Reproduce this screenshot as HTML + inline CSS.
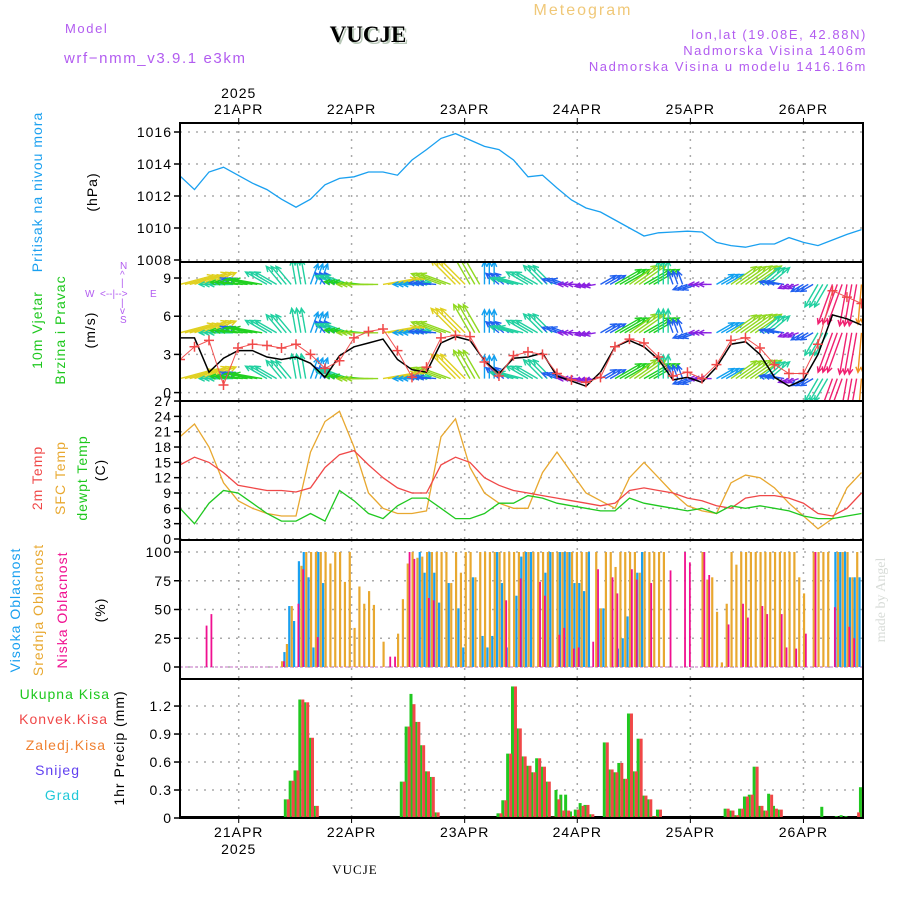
<!DOCTYPE html>
<html><head><meta charset="utf-8"><style>
html,body{margin:0;padding:0;background:#fff;}
svg{display:block;font-family:"Liberation Sans",sans-serif;}
.t{font-size:14px;letter-spacing:1px;fill:#000;}
.pu{fill:#b25cf0;font-size:13px;letter-spacing:1.6px;}
</style></head><body>
<svg id="chart" width="900" height="900" viewBox="0 0 900 900" xmlns="http://www.w3.org/2000/svg">
<defs>
<clipPath id="c1"><rect x="180" y="123" width="683" height="139"/></clipPath>
<clipPath id="c2"><rect x="180" y="262" width="683" height="139"/></clipPath>
<clipPath id="c3"><rect x="180" y="401" width="683" height="139"/></clipPath>
<clipPath id="c4"><rect x="180" y="540" width="683" height="139"/></clipPath>
<clipPath id="c5"><rect x="180" y="679" width="683" height="139"/></clipPath>
</defs>
<text x="65" y="33" class="pu" font-size="14">Model</text>
<text x="64" y="63" class="pu" style="font-size:15px">wrf−nmm_v3.9.1 e3km</text>
<text x="370" y="44" text-anchor="middle" font-family="Liberation Serif,serif" font-weight="bold" font-size="23" fill="#b8c8b8">VUCJE</text>
<text x="368" y="42" text-anchor="middle" font-family="Liberation Serif,serif" font-weight="bold" font-size="23" fill="#000">VUCJE</text>
<text x="583" y="15" text-anchor="middle" fill="#f0c878" font-size="16" letter-spacing="2">Meteogram</text>
<text x="867" y="39" text-anchor="end" class="pu">lon,lat (19.08E, 42.88N)</text>
<text x="867" y="55" text-anchor="end" class="pu">Nadmorska Visina 1406m</text>
<text x="867" y="71" text-anchor="end" class="pu">Nadmorska Visina u modelu 1416.16m</text>

<text transform="translate(42,192) rotate(-90)" text-anchor="middle" class="t" style="fill:#1aa0f0">Pritisak na nivou mora</text>
<text transform="translate(97,192) rotate(-90)" text-anchor="middle" class="t">(hPa)</text>
<text transform="translate(42,330) rotate(-90)" text-anchor="middle" class="t" style="fill:#1ec81e">10m Vjetar</text>
<text transform="translate(65,330) rotate(-90)" text-anchor="middle" class="t" style="fill:#1ec81e">Brzina i Pravac</text>
<text transform="translate(95,330) rotate(-90)" text-anchor="middle" class="t">(m/s)</text>
<g fill="#b25cf0" font-size="10">
<text x="120" y="269">N</text><text x="120" y="278">^</text><text x="121" y="286">|</text>
<text x="85" y="297">W</text><text x="100" y="297">&lt;--|--&gt;</text><text x="150" y="297">E</text>
<text x="121" y="306">|</text><text x="120" y="314">v</text><text x="120" y="323">S</text>
</g>
<text transform="translate(42,478) rotate(-90)" text-anchor="middle" class="t" style="fill:#f04848">2m Temp</text>
<text transform="translate(65,478) rotate(-90)" text-anchor="middle" class="t" style="fill:#e8a830">SFC Temp</text>
<text transform="translate(87,478) rotate(-90)" text-anchor="middle" class="t" style="fill:#1ec81e">dewpt Temp</text>
<text transform="translate(105,470) rotate(-90)" text-anchor="middle" class="t">(C)</text>
<text transform="translate(20,610) rotate(-90)" text-anchor="middle" class="t" style="fill:#1aa0f0">Visoka Oblacnost</text>
<text transform="translate(43,610) rotate(-90)" text-anchor="middle" class="t" style="fill:#e8a830">Srednja Oblacnost</text>
<text transform="translate(67,610) rotate(-90)" text-anchor="middle" class="t" style="fill:#f01090">Niska Oblacnost</text>
<text transform="translate(105,610) rotate(-90)" text-anchor="middle" class="t">(%)</text>
<text x="110" y="699" text-anchor="end" class="t" style="fill:#1ec81e">Ukupna Kisa</text>
<text x="108" y="724" text-anchor="end" class="t" style="fill:#f04848">Konvek.Kisa</text>
<text x="106" y="750" text-anchor="end" class="t" style="fill:#f08030">Zaledj.Kisa</text>
<text x="80" y="775" text-anchor="end" class="t" style="fill:#6040f0">Snijeg</text>
<text x="80" y="800" text-anchor="end" class="t" style="fill:#20c8d8">Grad</text>
<text transform="translate(124,748) rotate(-90)" text-anchor="middle" class="t">1hr Precip (mm)</text>
<text transform="translate(885,600) rotate(-90)" text-anchor="middle" font-family="Liberation Serif,serif" font-size="14" fill="#d8dcd8">made by Angel</text>
<text x="355" y="874" text-anchor="middle" font-family="Liberation Serif,serif" font-size="13" letter-spacing="1">VUCJE</text>
<g id="plot"></g>
</svg>
<script>
const hours3 = [0,3,6,9,12,15,18,21,24,27,30,33,36,39,42,45,48,51,54,57,60,63,66,69,72,75,78,81,84,87,90,93,96,99,102,105,108,111,114,117,120,123,126,129,132,135,138,141];
const pressure = [1013.25,1012.4,1013.5,1013.8,1013.3,1012.8,1012.4,1011.8,1011.3,1011.8,1012.7,1013.1,1013.2,1013.5,1013.5,1013.3,1014.25,1014.9,1015.6,1015.9,1015.5,1015.1,1014.9,1014.25,1013.2,1013.3,1012.5,1011.75,1011.25,1011,1010.5,1010,1009.5,1009.7,1009.75,1009.8,1009.75,1009.1,1008.9,1008.8,1009,1009,1009.4,1009.1,1008.9,1009.25,1009.6,1009.9];
const windSpeed = [4.3,4.3,1.6,2.7,3.3,3.3,2.8,2.6,2.8,2.3,1.2,2.9,3.6,3.9,4.2,2.6,1.8,1.6,3.9,4.4,4.1,2.5,1.5,2.7,2.8,3.1,1.3,0.9,0.5,1.6,3.6,4.1,3.6,2.6,1.0,1.2,0.8,2.0,3.8,4.0,3.0,1.2,0.5,1.0,3.0,6.1,5.8,5.3];
const windGust = [2.6,3.6,4.1,0.6,3.5,3.8,3.7,3.5,3.8,3.0,1.9,2.5,4.3,4.8,5.0,3.3,1.2,2.0,4.3,4.5,4.4,2.4,1.3,2.9,3.2,3.0,1.5,1.0,0.8,1.2,3.6,4.2,3.9,2.8,1.3,1.6,1.1,2.2,4.1,4.3,3.5,2.2,1.5,1.5,3.8,8.0,7.5,7.0];
const windHeading = [15,20,20,180,175,170,150,130,100,70,130,160,175,180,10,5,180,175,160,135,120,90,140,165,150,135,160,180,190,30,30,35,30,90,110,200,180,30,35,35,40,170,200,210,240,250,260,265];
const temp2m = [14.5,16,15,13,10.5,10,9.5,9.5,9.2,10,14,16.5,17.3,14.5,12,10,9,9,14.5,16,15,12,10.5,9.5,9,8.5,8,7.5,7,6.5,7,9.5,10,9.5,9,8,7.5,6.5,6,8,8.5,8.5,8,7,5,4.5,6,9];
const tempSfc = [20,22.5,18,11,7.5,6,5,4.5,4.5,17,23,25,18,9,6,5,5,5.5,20,23.5,14,9,7,6,6,13,17,13,9,7.5,6,12,15,12,9,6.5,5.5,5,11,12.5,12,10,7,4.5,2,4,10,13];
const dewpoint = [6,3,7,9.5,9,7,5,3.5,3.5,5,3.5,9.5,7.5,5,4,6.5,8,8,6,4,4,5,7,7,8.5,8,7,6.5,6,5.5,5.5,8,7,6.5,6,5.5,6,5,6.5,6,6.5,6,5.5,4.5,4,4,4.5,5];
const cloudHigh = [0,0,0,0,0,0,0,0,0,0, 0,0,0,0,0,0,0,0,0,0, 0,0,13,53,40,92,100,78,17,100, 73,0,0,0,0,0,0,0,0,0, 0,0,0,0,0,0,0,0,0,0, 100,82,100,82,56,0,73,0,51,17, 0,78,0,27,17,27,100,73,17,0, 62,96,100,100,0,0,82,100,0,100, 100,100,73,73,66,100,0,51,51,0, 0,16,25,44,0,82,100,0,0,0, 0,0,0,0,0,0,0,0,0,0, 0,0,0,0,0,0,0,0,0,0, 0,0,0,0,0,0,0,0,0,0, 0,0,0,0,0,0,100,100,100,78, 78,78];
const cloudMid = [0,0,0,0,0,0,0,0,0,0, 0,0,0,0,0,0,0,0,0,0, 0,5,20,53,0,88,100,100,100,100, 100,90,100,100,74,100,34,70,55,66, 54,0,22,0,0,29,59,90,100,95, 96,100,100,100,100,100,73,100,82,100, 100,78,100,100,100,100,100,100,100,100, 100,100,100,100,100,100,100,100,100,100, 100,100,100,100,100,0,100,51,100,100, 87,100,100,100,100,82,100,100,100,100, 100,0,0,0,0,0,0,0,100,76, 78,48,4,55,100,89,100,100,100,100, 100,100,100,100,100,100,100,100,78,64, 0,100,100,100,100,0,100,100,100,78, 100,0];
const cloudLow = [0,0,0,0,0,36,46,0,0,0, 0,0,0,0,0,0,0,0,0,0, 0,5,0,0,55,85,0,0,26,0, 0,0,0,0,0,0,0,0,0,0, 0,0,0,9,9,0,0,100,94,0, 0,60,58,0,0,0,0,0,0,0, 0,0,0,0,0,0,0,58,0,0, 77,0,0,0,74,62,0,0,28,34, 0,16,17,0,0,22,85,0,0,78, 64,0,0,85,76,0,0,73,0,0, 0,84,0,0,100,91,0,0,100,80, 0,0,0,37,0,0,55,43,0,0, 53,46,0,0,46,17,0,16,0,29, 0,100,0,0,0,52,0,0,35,25, 0,0];
const precipTotal = [0,0,0,0,0,0,0,0,0,0, 0,0,0,0,0,0,0,0,0,0, 0,0,0.2,0.4,0.51,1.27,1.24,0.86,0.13,0, 0,0,0,0,0,0,0,0,0,0, 0,0,0,0,0,0.01,0.39,0.98,1.33,1.03, 0.78,0.5,0.44,0.06,0,0,0,0,0,0, 0,0,0,0,0,0.01,0.05,0.19,0.69,1.41, 0.96,0.66,0.56,0.49,0.64,0.55,0.39,0.015,0.3,0.25, 0.25,0.07,0.09,0.16,0.14,0.04,0,0,0.81,0.52, 0.49,0.59,0.42,1.12,0.5,0.85,0.24,0.2,0.02,0.09, 0.01,0,0,0.01,0.01,0,0,0,0,0, 0,0,0,0.1,0.08,0.03,0.1,0.23,0.25,0.55, 0.13,0.08,0.26,0.13,0.09,0,0,0,0,0, 0,0,0,0.12,0,0,0.02,0.03,0.02,0, 0,0.33];
const precipConv = [0,0,0,0,0,0,0,0,0,0, 0,0,0,0,0,0,0,0,0,0, 0,0,0.2,0.4,0.51,1.27,1.24,0.86,0.13,0, 0,0,0,0,0,0,0,0,0,0, 0,0,0,0,0,0.01,0.39,0.98,1.22,1.03, 0.78,0.5,0.44,0.06,0,0,0,0,0,0, 0,0,0,0,0,0.01,0.05,0.19,0.69,1.41, 0.96,0.66,0.56,0.49,0.64,0.55,0.39,0.015,0.2,0.08, 0.08,0.02,0.09,0.13,0.14,0.04,0,0,0.81,0.52, 0.49,0.59,0.42,1.12,0.5,0.85,0.24,0.2,0.02,0.09, 0.01,0,0,0.01,0.01,0,0,0,0,0, 0,0,0,0.1,0.08,0.03,0.1,0.23,0.25,0.55, 0.13,0.08,0.25,0.1,0.09,0,0,0,0,0, 0,0,0,0,0,0,0,0,0,0.01, 0.06,0.33];
const dayTickHours = [12.15,35.5,58.9,82.2,105.6,129.0];
const dayLabels = ['21APR','22APR','23APR','24APR','25APR','26APR'];
const pressureTicks = [1008,1010,1012,1014,1016];
const windTicks = [0,3,6,9];
const tempTicks = [0,3,6,9,12,15,18,21,24,27];
const cloudTicks = [0,25,50,75,100];
const precipTicks = [0,0.3,0.6,0.9,1.2];
const windRows = [1.1,4.7,8.5];

const X0=180, X1=863;
const xS = h => X0 + h*4.833;
const yP = v => 132 + (1016-v)*16;
const yW = v => 392.6 - v*12.73;
const yT = v => 539 - v*5.11;
const yC = v => 667 - v*1.15;
const yR = v => 818 - v*93.3;
const panels = [[123,262,'c1'],[262,401,'c2'],[401,540,'c3'],[540,679,'c4'],[679,818,'c5']];

const NS='http://www.w3.org/2000/svg';
const plot=document.getElementById('plot');
function mk(tag, attrs, parent){const e=document.createElementNS(NS,tag);for(const k in attrs)e.setAttribute(k,attrs[k]);(parent||plot).appendChild(e);return e;}

function grid(ticks, yf, pi, fmt, name){
  const [t,b]=panels[pi];
  ticks.forEach(v=>{
    const y=yf(v);
    const g=mk('line',{x1:X0,x2:X1,y1:y,y2:y,stroke:'#aaa','stroke-width':1.5,'stroke-dasharray':'2,6'});
    
    
    const lb=mk('text',{x:172,y:y+5,'text-anchor':'end',class:'t'});
    lb.textContent=fmt(v);
    
    
    const tk=mk('line',{x1:X0-6,x2:X0,y1:y,y2:y,stroke:'#000','stroke-width':1.5});
    
    
  });
  dayTickHours.forEach(h=>{
    const v=mk('line',{x1:xS(h),x2:xS(h),y1:t,y2:b,stroke:'#aaa','stroke-width':1.5,'stroke-dasharray':'2,6'});
    
    
  });
}
grid(pressureTicks,yP,0,v=>String(v),'pressure');
grid(windTicks,yW,1,v=>String(v),'wind');
grid(tempTicks,yT,2,v=>String(v),'temp');
grid(cloudTicks,yC,3,v=>String(v),'cloud');
grid(precipTicks,yR,4,v=>v===0?'0':v.toFixed(1),'precip');

dayTickHours.forEach((h,i)=>{
  const a=mk('text',{x:xS(h),y:114,'text-anchor':'middle',class:'t'});a.textContent=dayLabels[i];
  
  
  const b=mk('text',{x:xS(h),y:837,'text-anchor':'middle',class:'t'});b.textContent=dayLabels[i];
  
  
  const t1=mk('line',{x1:xS(h),x2:xS(h),y1:118,y2:123,stroke:'#000'});
  
  
  const t2=mk('line',{x1:xS(h),x2:xS(h),y1:818,y2:823,stroke:'#000'});
  
  
});
const y1=mk('text',{x:xS(dayTickHours[0]),y:98,'text-anchor':'middle',class:'t'});y1.textContent='2025';


const y2=mk('text',{x:xS(dayTickHours[0]),y:854,'text-anchor':'middle',class:'t'});y2.textContent='2025';



function line(xs, vals, yf, color, clip, name, w){
  const d=vals.map((v,i)=>(i?'L':'M')+xS(xs[i]).toFixed(1)+','+yf(v).toFixed(1)).join('');
  const p=mk('path',{d:d,fill:'none',stroke:color,'stroke-width':w||1.3,'clip-path':'url(#'+clip+')'});
  
  
}
line(hours3,pressure,yP,'#1aa0f0','c1','pressure-line');

function speedColor(s){
  if(s<1) return '#8a20e0';
  if(s<1.8) return '#2060f0';
  if(s<2.6) return '#10a0f0';
  if(s<3.2) return '#20d0a0';
  if(s<3.8) return '#20d020';
  if(s<4.2) return '#90d820';
  if(s<4.8) return '#e0d020';
  if(s<5.5) return '#f09020';
  return '#f02070';
}
const wg=mk('g',{'clip-path':'url(#c2)'});


windRows.forEach(rv=>{
  hours3.forEach((h,i)=>{
    const s=windSpeed[i], a=windHeading[i]*Math.PI/180;
    const L=Math.min(8+s*6,42);
    const c=speedColor(s);
    [0,1,2].forEach(k=>{
      const x0=xS(h+k), y0=yW(rv);
      const x1=x0+L*Math.cos(a), y1=y0-L*Math.sin(a);
      const ar=mk('line',{x1:x0,y1:y0,x2:x1,y2:y1,stroke:c,'stroke-width':1.4},wg);
      
      
      const hx1=x1-6*Math.cos(a-0.45), hy1=y1+6*Math.sin(a-0.45);
      const hx2=x1-6*Math.cos(a+0.45), hy2=y1+6*Math.sin(a+0.45);
      const hd=mk('path',{d:`M${hx1},${hy1}L${x1},${y1}L${hx2},${hy2}`,fill:'none',stroke:c,'stroke-width':1.4},wg);
      
      
    });
  });
});
line(hours3,windSpeed,yW,'#000','c2','wind-speed-line',1.5);
line(hours3,windGust,yW,'#f05050','c2','wind-gust-line',1);
hours3.forEach((h,i)=>{
  const x=xS(h), y=yW(windGust[i]);
  const pl=mk('path',{d:`M${x-5},${y}H${x+5}M${x},${y-5}V${y+5}`,stroke:'#f04848','stroke-width':1.5,'clip-path':'url(#c2)'});
  
  
});

line(hours3,tempSfc,yT,'#e8a830','c3','sfc-temp-line');
line(hours3,temp2m,yT,'#f04848','c3','temp-2m-line');
line(hours3,dewpoint,yT,'#20c820','c3','dewpoint-line');

const base=mk('line',{x1:X0,x2:X1,y1:yC(0),y2:yC(0),stroke:'#d8a0d8','stroke-width':1.5,'stroke-dasharray':'3,2'});


cloudMid.forEach((v,h)=>{ if(v>0){
  const r=mk('rect',{x:xS(h)-0.5,y:yC(v),width:2.2,height:yC(0)-yC(v),fill:'#e8a830','clip-path':'url(#c4)'});
  
  
}});
cloudHigh.forEach((v,h)=>{ if(v>0){
  const r=mk('rect',{x:xS(h)-3,y:yC(v),width:2.2,height:yC(0)-yC(v),fill:'#1aa0f0','clip-path':'url(#c4)'});
  
  
}});
cloudLow.forEach((v,h)=>{ if(v>0){
  const r=mk('rect',{x:xS(h)+1.5,y:yC(v),width:1.8,height:yC(0)-yC(v),fill:'#f01090','clip-path':'url(#c4)'});
  
  
}});

const pb=mk('line',{x1:X0,x2:X1,y1:817,y2:817,stroke:'#000','stroke-width':2});


precipTotal.forEach((v,h)=>{ if(v>0){
  const r=mk('rect',{x:xS(h)-2.5,y:yR(v),width:3,height:yR(0)-yR(v),fill:'#20c820','clip-path':'url(#c5)'});
  
  
}});
precipConv.forEach((v,h)=>{ if(v>0){
  const r=mk('rect',{x:xS(h)+0.5,y:yR(v),width:3,height:yR(0)-yR(v),fill:'#f04848','clip-path':'url(#c5)'});
  
  
}});

panels.forEach((p,i)=>{
  const f=mk('rect',{x:X0,y:p[0],width:X1-X0,height:p[1]-p[0],fill:'none',stroke:'#000','stroke-width':2});
  
  
});
</script>
</body></html>
